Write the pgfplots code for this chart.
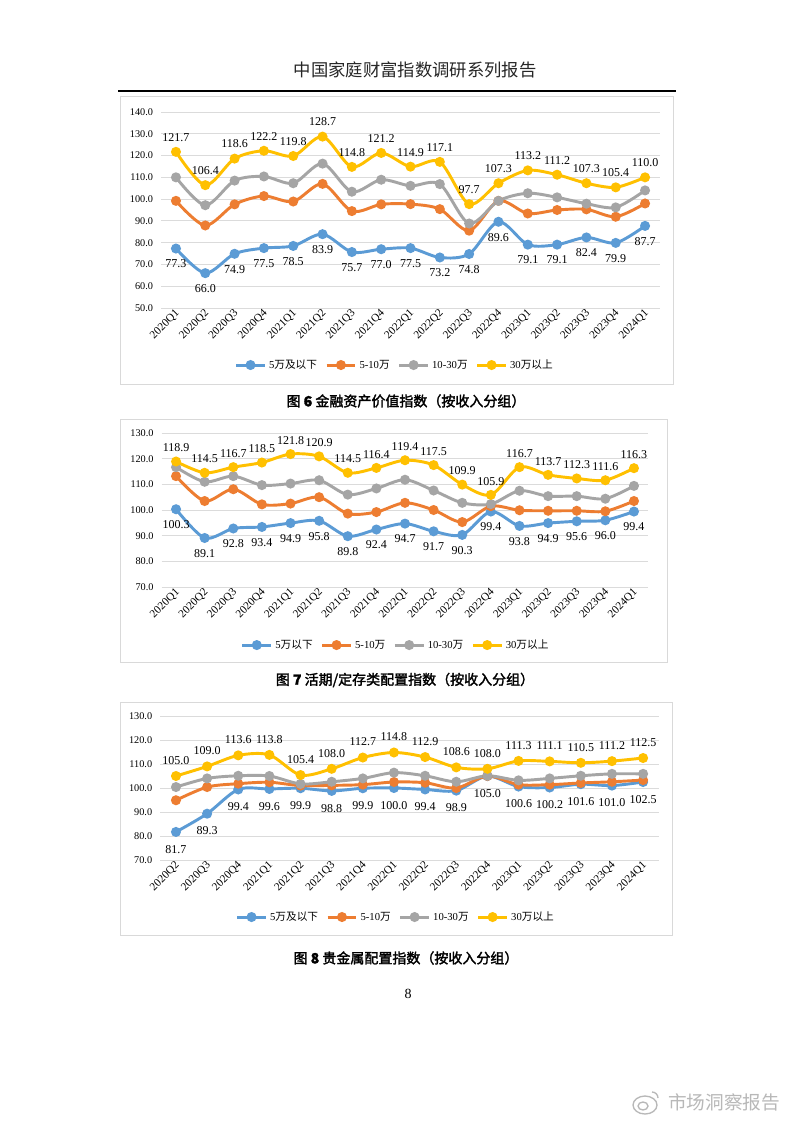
\documentclass[border=0pt]{standalone}
\usepackage{fontspec}
\setmainfont{Liberation Serif}
\newfontfamily\cjk{Noto Sans CJK SC}
\newfontfamily\cjkb[FakeBold=2]{Noto Sans CJK SC}
\usepackage{pgfplots}
\pgfplotsset{compat=1.18}
\definecolor{cB}{HTML}{5B9BD5}
\definecolor{cO}{HTML}{ED7D31}
\definecolor{cG}{HTML}{A5A5A5}
\definecolor{cY}{HTML}{FFC000}
\newcommand{\zh}[1]{{\cjk #1}}
\pgfplotsset{
  excel/.style={
    scale only axis, clip=false,
    axis line style={draw=none},
    major tick length=0pt,
    ymajorgrids,
    major grid style={draw=black!14, line width=0.7pt},
    yticklabel style={font=\fontsize{7.7}{9}\selectfont, anchor=east, inner sep=0pt, xshift=-6pt},
    xticklabel style={font=\fontsize{8.4}{9}\selectfont, rotate=45, anchor=east, inner sep=1pt, yshift=-3pt},
    legend columns=4,
    legend style={draw=none, fill=none, font=\fontsize{8}{9}\selectfont, anchor=center,
      /tikz/every even column/.append style={column sep=4pt}},
    legend image code/.code={\draw[mark repeat=2,mark phase=2,##1] plot coordinates {(0cm,0cm) (0.38cm,0cm) (0.76cm,0cm)};},
    every axis plot/.append style={line width=2.2pt, smooth, tension=0.5, mark=*, mark size=2.6pt, mark options={solid}},
  },
  lab/.style={nodes near coords={\pgfmathprintnumber[fixed,fixed zerofill,precision=1,assume math mode=true]{\pgfplotspointmeta}},
    every node near coord/.append style={font=\fontsize{9}{10}\selectfont, text=black, anchor=center, inner sep=0pt, yshift=#1}},
}
\begin{document}
\begin{tikzpicture}
\path[use as bounding box, fill=white] (0pt,0pt) rectangle (595.5pt,-842.25pt);
\begin{scope}[x=0.75pt,y=-0.75pt]
  \node[font=\fontsize{13}{15}\selectfont\cjk, text=black!85] at (415,70) {中国家庭财富指数调研系列报告};
  \draw[line width=1.1pt] (118,91) -- (676,91);
  \draw[black!15, line width=0.75pt] (120,97) rectangle (673,384);
  \draw[black!15, line width=0.75pt] (120,419) rectangle (667,662);
  \draw[black!15, line width=0.75pt] (120,702) rectangle (672,935);
  \node[font=\fontsize{10.5}{12}\selectfont] at (406,401) {\cjkb 图 \textbf{6} 金融资产价值指数（按收入分组）};
  \node[font=\fontsize{10.5}{12}\selectfont] at (405,680) {\cjkb 图 \textbf{7} 活期/定存类配置指数（按收入分组）};
  \node[font=\fontsize{10.5}{12}\selectfont] at (406,958) {\cjkb 图 \textbf{8} 贵金属配置指数（按收入分组）};
  \node[font=\fontsize{10.5}{12}\selectfont] at (408,994) {8};
  \node[font=\fontsize{14}{16}\selectfont\cjk, text=black!28] at (724,1102) {市场洞察报告};
  \draw[black!28, line width=1pt] (645,1105) ellipse (12 and 9);
  \draw[black!28, line width=1pt] (643,1106) ellipse (5 and 4);
  \draw[black!28, line width=1pt] (652,1092) arc (-90:0:6);
\end{scope}

% Chart 1
\begin{axis}[excel, at={(120.98pt,-231pt)}, anchor=south west,
  width=373.8pt, height=147pt,
  xmin=-0.5, xmax=16.5, ymin=50, ymax=140,
  ytick={50,60,70,80,90,100,110,120,130,140},
  yticklabels={50.0,60.0,70.0,80.0,90.0,100.0,110.0,120.0,130.0,140.0},
  xtick={0,...,16},
  xticklabels={2020Q1,2020Q2,2020Q3,2020Q4,2021Q1,2021Q2,2021Q3,2021Q4,2022Q1,2022Q2,2022Q3,2022Q4,2023Q1,2023Q2,2023Q3,2023Q4,2024Q1},
  legend style={at={(0.469,-0.291)}},
]
\addplot[color=cB, lab=-11.6pt] coordinates {(0,77.3) (1,66.0) (2,74.9) (3,77.5) (4,78.5) (5,83.9) (6,75.7) (7,77.0) (8,77.5) (9,73.2) (10,74.8) (11,89.6) (12,79.1) (13,79.1) (14,82.4) (15,79.9) (16,87.7)};
\addlegendentry{5\zh{万及以下}}
\addplot[color=cO] coordinates {(0,99.2) (1,87.9) (2,97.6) (3,101.4) (4,98.9) (5,107.0) (6,94.5) (7,97.6) (8,97.7) (9,95.4) (10,85.5) (11,99.2) (12,93.4) (13,95.0) (14,95.3) (15,91.9) (16,98.0)};
\addlegendentry{5-10\zh{万}}
\addplot[color=cG] coordinates {(0,110.0) (1,97.2) (2,108.5) (3,110.4) (4,107.3) (5,116.3) (6,103.4) (7,108.9) (8,106.1) (9,106.9) (10,88.8) (11,99.2) (12,102.7) (13,100.8) (14,97.9) (15,96.2) (16,104.0)};
\addlegendentry{10-30\zh{万}}
\addplot[color=cY, lab=10.9pt] coordinates {(0,121.7) (1,106.4) (2,118.6) (3,122.2) (4,119.8) (5,128.7) (6,114.8) (7,121.2) (8,114.9) (9,117.1) (10,97.7) (11,107.3) (12,113.2) (13,111.2) (14,107.3) (15,105.4) (16,110.0)};
\addlegendentry{30\zh{万以上}}
\end{axis}

% Chart 2
\begin{axis}[excel, at={(121.3pt,-440.25pt)}, anchor=south west,
  width=364.9pt, height=115.5pt,
  xmin=-0.5, xmax=16.5, ymin=70, ymax=130,
  ytick={70,80,90,100,110,120,130},
  yticklabels={70.0,80.0,90.0,100.0,110.0,120.0,130.0},
  xtick={0,...,16},
  xticklabels={2020Q1,2020Q2,2020Q3,2020Q4,2021Q1,2021Q2,2021Q3,2021Q4,2022Q1,2022Q2,2022Q3,2022Q4,2023Q1,2023Q2,2023Q3,2023Q4,2024Q1},
  legend style={at={(0.4815,-0.377)}},
]
\addplot[color=cB, lab=-11.5pt] coordinates {(0,100.3) (1,89.1) (2,92.8) (3,93.4) (4,94.9) (5,95.8) (6,89.8) (7,92.4) (8,94.7) (9,91.7) (10,90.3) (11,99.4) (12,93.8) (13,94.9) (14,95.6) (15,96.0) (16,99.4)};
\addlegendentry{5\zh{万以下}}
\addplot[color=cO] coordinates {(0,113.2) (1,103.5) (2,108.1) (3,102.2) (4,102.5) (5,105.0) (6,98.6) (7,99.2) (8,102.8) (9,100.0) (10,95.3) (11,101.5) (12,99.9) (13,99.7) (14,99.7) (15,99.5) (16,103.5)};
\addlegendentry{5-10\zh{万}}
\addplot[color=cG] coordinates {(0,116.7) (1,111.0) (2,113.2) (3,109.7) (4,110.3) (5,111.6) (6,106.0) (7,108.4) (8,111.8) (9,107.6) (10,102.8) (11,102.3) (12,107.5) (13,105.4) (14,105.4) (15,104.4) (16,109.4)};
\addlegendentry{10-30\zh{万}}
\addplot[color=cY, lab=10.3pt] coordinates {(0,118.9) (1,114.5) (2,116.7) (3,118.5) (4,121.8) (5,120.9) (6,114.5) (7,116.4) (8,119.4) (9,117.5) (10,109.9) (11,105.9) (12,116.7) (13,113.7) (14,112.3) (15,111.6) (16,116.3)};
\addlegendentry{30\zh{万以上}}
\end{axis}

% Chart 3
\begin{axis}[excel, at={(120.3pt,-645pt)}, anchor=south west,
  width=373.7pt, height=108pt,
  xmin=-0.5, xmax=15.5, ymin=70, ymax=130,
  ytick={70,80,90,100,110,120,130},
  yticklabels={70.0,80.0,90.0,100.0,110.0,120.0,130.0},
  xtick={0,...,15},
  xticklabels={2020Q2,2020Q3,2020Q4,2021Q1,2021Q2,2021Q3,2021Q4,2022Q1,2022Q2,2022Q3,2022Q4,2023Q1,2023Q2,2023Q3,2023Q4,2024Q1},
  legend style={at={(0.473,-0.396)}},
]
\addplot[color=cB, lab=-13pt] coordinates {(0,81.7) (1,89.3) (2,99.4) (3,99.6) (4,99.9) (5,98.8) (6,99.9) (7,100.0) (8,99.4) (9,98.9) (10,105.0) (11,100.6) (12,100.2) (13,101.6) (14,101.0) (15,102.5)};
\addlegendentry{5\zh{万及以下}}
\addplot[color=cO] coordinates {(0,94.9) (1,100.4) (2,101.8) (3,102.4) (4,101.0) (5,101.1) (6,101.4) (7,102.5) (8,102.2) (9,100.0) (10,105.0) (11,101.4) (12,101.4) (13,102.1) (14,102.6) (15,103.3)};
\addlegendentry{5-10\zh{万}}
\addplot[color=cG] coordinates {(0,100.4) (1,104.0) (2,105.1) (3,105.0) (4,101.7) (5,102.6) (6,104.0) (7,106.4) (8,105.1) (9,102.6) (10,105.1) (11,103.2) (12,104.0) (13,105.1) (14,105.9) (15,105.9)};
\addlegendentry{10-30\zh{万}}
\addplot[color=cY, lab=11.6pt] coordinates {(0,105.0) (1,109.0) (2,113.6) (3,113.8) (4,105.4) (5,108.0) (6,112.7) (7,114.8) (8,112.9) (9,108.6) (10,108.0) (11,111.3) (12,111.1) (13,110.5) (14,111.2) (15,112.5)};
\addlegendentry{30\zh{万以上}}
\end{axis}
\end{tikzpicture}
\end{document}
